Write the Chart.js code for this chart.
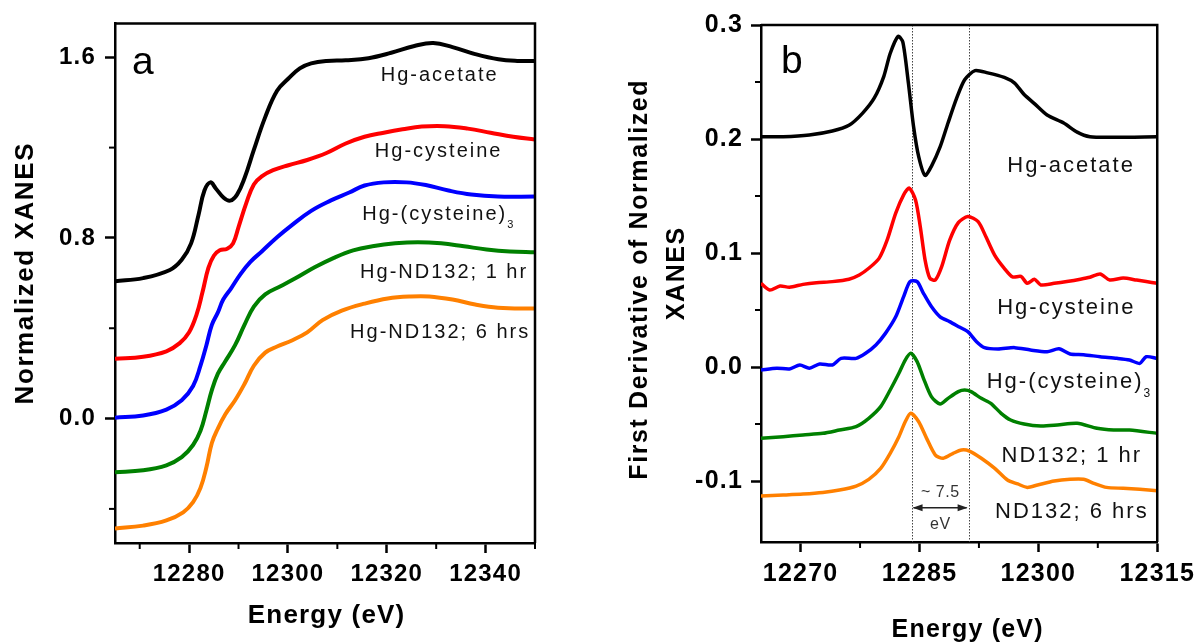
<!DOCTYPE html>
<html>
<head>
<meta charset="utf-8">
<title>Hg L3-edge XANES</title>
<script src="https://cdn.jsdelivr.net/npm/chart.js@4.4.1/dist/chart.umd.min.js"></script>
<style>
  body { margin: 0; background: #fff; width: 1202px; height: 644px; position: relative; overflow: hidden; }
  canvas { position: absolute; top: 0; }
  #chart-a { left: 0; }
  #chart-b { left: 600px; }
</style>
</head>
<body>
<canvas id="chart-a" width="600" height="644"></canvas>
<canvas id="chart-b" width="602" height="644"></canvas>
<script>
// Panel a: normalized XANES, offset stack (energy in eV, normalized absorbance)
const acetateE = [12265, 12270.7, 12276.1, 12278.5, 12280.4, 12281.9, 12283.1, 12284.3, 12285.4, 12287.0, 12288.3, 12289.7, 12291.2, 12293.1, 12295.4, 12297.8, 12300.1, 12302.4, 12304.7, 12307.8, 12311.7, 12316.3, 12320.9, 12325.6, 12329.4, 12333.3, 12337.9, 12342.6, 12346.4, 12350];
const acetateN = [0.608, 0.622, 0.658, 0.703, 0.776, 0.902, 1.010, 1.046, 1.019, 0.978, 0.965, 0.992, 1.064, 1.190, 1.335, 1.452, 1.506, 1.551, 1.573, 1.584, 1.587, 1.596, 1.620, 1.650, 1.663, 1.645, 1.614, 1.591, 1.584, 1.584];

const cysE = [12265, 12270.7, 12275.4, 12278.1, 12280.0, 12281.5, 12282.7, 12283.9, 12285.0, 12286.2, 12287.7, 12288.9, 12290.0, 12291.6, 12293.1, 12294.7, 12297.0, 12300.1, 12303.9, 12307.8, 12311.7, 12315.5, 12319.4, 12323.2, 12327.1, 12331.7, 12336.4, 12341.0, 12345.6, 12350];
const cysN = [0.265, 0.274, 0.298, 0.334, 0.382, 0.460, 0.559, 0.667, 0.721, 0.745, 0.752, 0.776, 0.848, 0.956, 1.037, 1.073, 1.100, 1.122, 1.145, 1.176, 1.218, 1.248, 1.266, 1.281, 1.293, 1.295, 1.284, 1.266, 1.248, 1.236];

const cys3E = [12265, 12270.7, 12275.4, 12278.5, 12280.8, 12282.3, 12283.5, 12284.6, 12285.8, 12286.9, 12288.5, 12290.4, 12292.4, 12294.7, 12297.8, 12300.8, 12304.7, 12308.6, 12312.4, 12315.5, 12319.4, 12324.0, 12327.9, 12332.5, 12337.1, 12342.5, 12350];
const cys3N = [0.004, 0.014, 0.040, 0.081, 0.144, 0.234, 0.325, 0.415, 0.469, 0.527, 0.577, 0.640, 0.694, 0.740, 0.803, 0.857, 0.920, 0.965, 1.001, 1.032, 1.046, 1.046, 1.034, 1.010, 0.992, 0.983, 0.983];

const nd1hE = [12265, 12270.7, 12275.4, 12278.5, 12280.8, 12282.3, 12283.5, 12284.6, 12285.8, 12287.3, 12289.3, 12291.2, 12293.1, 12295.4, 12298.5, 12301.6, 12305.5, 12309.3, 12313.2, 12317.1, 12321.7, 12326.3, 12331.0, 12335.6, 12340.2, 12344.9, 12350];
const nd1hN = [-0.238, -0.229, -0.207, -0.171, -0.117, -0.054, 0.036, 0.126, 0.198, 0.253, 0.325, 0.415, 0.496, 0.550, 0.586, 0.622, 0.671, 0.712, 0.745, 0.763, 0.776, 0.781, 0.776, 0.763, 0.749, 0.740, 0.736];

const nd6hE = [12265, 12270.7, 12275.4, 12278.8, 12280.8, 12282.3, 12283.5, 12284.6, 12285.8, 12287.3, 12289.3, 12291.2, 12293.1, 12295.4, 12297.8, 12300.8, 12303.9, 12307.0, 12310.9, 12315.5, 12320.2, 12324.8, 12328.6, 12333.3, 12337.9, 12342.5, 12350];
const nd6hN = [-0.487, -0.474, -0.451, -0.415, -0.370, -0.307, -0.216, -0.108, -0.045, 0.018, 0.081, 0.153, 0.234, 0.292, 0.319, 0.346, 0.382, 0.436, 0.478, 0.509, 0.532, 0.541, 0.541, 0.527, 0.505, 0.491, 0.487];

// Panel b: first derivative of the normalized spectra
const acetateDE = [12265, 12267.8, 12271.1, 12274.0, 12276.1, 12277.8, 12279.3, 12280.5, 12281.3, 12282.3, 12282.9, 12283.6, 12284.25, 12284.9, 12285.7, 12286.5, 12287.6, 12288.6, 12289.7, 12290.7, 12292.0, 12293.6, 12295.7, 12297.0, 12298.2, 12299.5, 12301.1, 12303.2, 12304.9, 12306.5, 12309.5, 12315];
const acetateD = [0.202, 0.202, 0.2035, 0.207, 0.212, 0.2225, 0.236, 0.255, 0.275, 0.290, 0.285, 0.249, 0.211, 0.1845, 0.168, 0.176, 0.193, 0.214, 0.236, 0.252, 0.260, 0.258, 0.254, 0.249, 0.239, 0.231, 0.221, 0.214, 0.206, 0.202, 0.2015, 0.202];

const cysDE = [12265, 12266.1, 12267.4, 12268.6, 12270.3, 12272.0, 12274.0, 12276.1, 12277.4, 12278.6, 12279.9, 12280.9, 12282.0, 12283.0, 12283.7, 12284.5, 12285.1, 12285.7, 12286.3, 12287.0, 12287.8, 12288.8, 12289.9, 12291.1, 12292.4, 12293.4, 12294.5, 12295.7, 12296.75, 12297.8, 12298.6, 12299.5, 12300.3, 12302.0, 12303.6, 12305.3, 12306.5, 12307.8, 12309.0, 12310.7, 12312.4, 12313.6, 12315];
const cysD = [0.0734, 0.0675, 0.071, 0.070, 0.0725, 0.074, 0.0749, 0.077, 0.0807, 0.0866, 0.0953, 0.111, 0.135, 0.151, 0.157, 0.1465, 0.123, 0.094, 0.078, 0.0763, 0.088, 0.111, 0.1266, 0.132, 0.1275, 0.114, 0.098, 0.0866, 0.079, 0.0795, 0.0734, 0.077, 0.072, 0.0734, 0.075, 0.077, 0.0787, 0.0816, 0.0763, 0.078, 0.0763, 0.075, 0.0734];

const cys3DE = [12265, 12267.0, 12268.6, 12269.9, 12271.1, 12272.4, 12274.0, 12275.1, 12277.0, 12278.2, 12279.5, 12280.7, 12282.0, 12283.0, 12283.8, 12284.7, 12285.5, 12286.5, 12287.6, 12288.8, 12290.1, 12291.1, 12292.2, 12293.2, 12294.9, 12297.0, 12299.0, 12301.1, 12302.6, 12304.0, 12305.7, 12307.8, 12309.9, 12311.5, 12312.8, 12313.6, 12315];
const cys3D = [-0.0026, -0.001, -0.0017, 0.0018, -0.001, 0.0026, 0.0018, 0.0076, 0.0076, 0.012, 0.0193, 0.0295, 0.044, 0.0617, 0.0749, 0.0749, 0.0646, 0.053, 0.044, 0.0398, 0.0348, 0.031, 0.0222, 0.017, 0.0158, 0.017, 0.0149, 0.0134, 0.016, 0.0114, 0.0108, 0.009, 0.0076, 0.0061, 0.0032, 0.009, 0.0076];

const nd1hDE = [12265, 12267.8, 12270.3, 12272.8, 12274.9, 12277.0, 12278.6, 12280.1, 12281.3, 12282.4, 12283.2, 12283.9, 12284.7, 12285.5, 12286.5, 12287.6, 12288.6, 12289.9, 12290.7, 12291.5, 12292.8, 12294.0, 12295.3, 12296.5, 12298.2, 12300.3, 12302.4, 12304.9, 12307.4, 12309.5, 12311.5, 12315];
const nd1hD = [-0.0626, -0.0611, -0.0596, -0.0582, -0.0553, -0.0523, -0.045, -0.0348, -0.0202, -0.0055, 0.0061, 0.012, 0.0047, -0.0099, -0.026, -0.0325, -0.0275, -0.0216, -0.0202, -0.0216, -0.0275, -0.0319, -0.0406, -0.0465, -0.05, -0.0518, -0.0509, -0.0494, -0.0538, -0.0553, -0.0553, -0.0582];

const nd6hDE = [12265, 12267.8, 12270.3, 12272.8, 12274.9, 12277.0, 12278.6, 12280.1, 12281.3, 12282.4, 12283.2, 12283.9, 12284.9, 12285.9, 12287.0, 12288.0, 12289.25, 12290.3, 12291.3, 12292.8, 12294.5, 12296.1, 12297.4, 12298.6, 12299.9, 12302.0, 12304.0, 12305.7, 12307.0, 12308.6, 12310.7, 12312.8, 12315];
const nd6hD = [-0.1132, -0.1123, -0.1114, -0.110, -0.1079, -0.1044, -0.0985, -0.0889, -0.0757, -0.0611, -0.048, -0.0406, -0.048, -0.0626, -0.0772, -0.080, -0.0757, -0.0728, -0.0737, -0.080, -0.0889, -0.0991, -0.1026, -0.1056, -0.1035, -0.100, -0.0985, -0.0985, -0.102, -0.1056, -0.1064, -0.1073, -0.1085];

// axis ticks
const aXTicks = [12280, 12300, 12320, 12340];
const aXMinor = [12270, 12290, 12310, 12330, 12350];
const aYTicks = [0, 0.8, 1.6];
const aYMinor = [-0.4, 0.4, 1.2];
const bXTicks = [12270, 12285, 12300, 12315];
const bXMinor = [12277.5, 12292.5, 12307.5];
const bYTicks = [-0.1, 0, 0.1, 0.2, 0.3];
const bYMinor = [-0.05, 0.05, 0.15, 0.25];

// guide lines for the two derivative maxima (~7.5 eV apart)
const peakE = [12284.0, 12291.2];

const colors = ['#000000', '#ff0000', '#0000ff', '#008000', '#ff8000'];
const namesA = ['Hg-acetate', 'Hg-cysteine', 'Hg-(cysteine)', 'Hg-ND132; 1 hr', 'Hg-ND132; 6 hrs'];
const namesB = ['Hg-acetate', 'Hg-cysteine', 'Hg-(cysteine)', 'ND132; 1 hr', 'ND132; 6 hrs'];
// where each curve name sits (energy, value at text baseline)
const labelAtA = [[12330.5, 1.494], [12330.3, 1.159], [12329.5, 0.881], [12331.4, 0.621], [12330.6, 0.357]];
const labelAtB = [[12304.0, 0.1708], [12303.4, 0.0465], [12303.25, -0.0187], [12304.1, -0.0831], [12304.1, -0.1327]];

const FONT = "'Liberation Sans', Arial, sans-serif";

function points(xs, ys) {
    return xs.map(function (x, i) { return { x: x, y: ys[i] }; });
}

function putText(ctx, txt, x, y, font, spacing, align, color) {
    ctx.save();
    ctx.font = font;
    ctx.letterSpacing = spacing + 'px';
    ctx.textAlign = align;
    ctx.textBaseline = 'alphabetic';
    ctx.fillStyle = color || '#000';
    var shift = align === 'center' ? spacing / 2 : (align === 'right' ? spacing : 0);
    ctx.fillText(txt, x + shift, y);
    var w = ctx.measureText(txt).width;
    ctx.restore();
    return w;
}

// frame, minor ticks, curve names, titles and the panel letter
const decor = {
    id: 'decor',
    beforeLayout: function (chart) { chart.ctx.letterSpacing = '1.2px'; },
    beforeDraw: function (chart) { chart.ctx.letterSpacing = '1.2px'; },
    beforeDatasetsDraw: function (chart, args, o) {
        if (!o.guides) return;
        var ctx = chart.ctx, xs = chart.scales.x, area = chart.chartArea;
        ctx.save();
        ctx.strokeStyle = '#444';
        ctx.lineWidth = 1;
        ctx.setLineDash([1.5, 1.5]);
        o.guides.forEach(function (e) {
            var px = Math.round(xs.getPixelForValue(e)) + 0.5;
            ctx.beginPath();
            ctx.moveTo(px, area.top);
            ctx.lineTo(px, area.bottom);
            ctx.stroke();
        });
        ctx.restore();
    },
    afterDraw: function (chart, args, o) {
        var ctx = chart.ctx, xs = chart.scales.x, ys = chart.scales.y, area = chart.chartArea;
        ctx.save();
        ctx.letterSpacing = '0px';
        ctx.strokeStyle = '#000';
        ctx.lineWidth = 2.5;
        // top and right edges of the box
        ctx.beginPath();
        ctx.moveTo(area.left, area.top);
        ctx.lineTo(area.right, area.top);
        ctx.lineTo(area.right, area.bottom);
        ctx.stroke();
        // minor ticks
        ctx.lineWidth = 2;
        o.xMinor.forEach(function (v) {
            var px = xs.getPixelForValue(v);
            ctx.beginPath();
            ctx.moveTo(px, area.bottom);
            ctx.lineTo(px, area.bottom + 6);
            ctx.stroke();
        });
        o.yMinor.forEach(function (v) {
            var py = ys.getPixelForValue(v);
            ctx.beginPath();
            ctx.moveTo(area.left, py);
            ctx.lineTo(area.left - 6, py);
            ctx.stroke();
        });
        ctx.restore();

        // curve names
        o.names.forEach(function (name, i) {
            var px = xs.getPixelForValue(o.labelAt[i][0]);
            var py = ys.getPixelForValue(o.labelAt[i][1]);
            var w = putText(ctx, name, px, py, o.labelFont, o.labelSpacing, 'center', '#111');
            if (i === 2) {
                putText(ctx, '3', px + w / 2 + 1, py + o.subDrop, o.subFont, 0, 'left', '#111');
            }
        });

        // panel letter
        putText(ctx, o.letter, area.left + o.letterAt[0], area.top + o.letterAt[1], '39px ' + FONT, 0, 'left');

        // axis titles
        putText(ctx, 'Energy (eV)', o.xTitleAt[0], o.xTitleAt[1], 'bold ' + o.titleSize + 'px ' + FONT, 1.2, 'center');
        o.yTitle.forEach(function (line, i) {
            ctx.save();
            ctx.translate(o.yTitleAt[i][0], o.yTitleAt[i][1]);
            ctx.rotate(-Math.PI / 2);
            putText(ctx, line, 0, 0, 'bold ' + o.titleSize + 'px ' + FONT, 1.6, 'center');
            ctx.restore();
        });

        // spacing arrow between the two guide lines
        if (o.guides) {
            var x1 = xs.getPixelForValue(o.guides[0]), x2 = xs.getPixelForValue(o.guides[1]);
            var ay = ys.getPixelForValue(o.arrowY);
            ctx.save();
            ctx.strokeStyle = '#222';
            ctx.fillStyle = '#222';
            ctx.lineWidth = 1.5;
            ctx.beginPath();
            ctx.moveTo(x1 + 2, ay);
            ctx.lineTo(x2 - 2, ay);
            ctx.stroke();
            [[x1 + 1, 1], [x2 - 1, -1]].forEach(function (h) {
                ctx.beginPath();
                ctx.moveTo(h[0], ay);
                ctx.lineTo(h[0] + h[1] * 10, ay - 3.5);
                ctx.lineTo(h[0] + h[1] * 10, ay + 3.5);
                ctx.closePath();
                ctx.fill();
            });
            ctx.restore();
            var cx = (x1 + x2) / 2;
            putText(ctx, '~ 7.5', cx, ay - 11, '16px ' + FONT, 0.5, 'center', '#333');
            putText(ctx, 'eV', cx, ay + 21, '16px ' + FONT, 0.5, 'center', '#333');
        }
    }
};

function makePanel(canvasId, cfg) {
    var datasets = cfg.series.map(function (s, i) {
        return {
            data: points(s[0], s[1]),
            borderColor: colors[i],
            borderWidth: cfg.lineWidth,
            pointRadius: 0,
            tension: cfg.tension,
            fill: false
        };
    });
    var tickFont = { family: FONT, size: cfg.tickSize, weight: 'bold' };
    return new Chart(document.getElementById(canvasId), {
        type: 'line',
        data: { datasets: datasets },
        plugins: [decor],
        options: {
            responsive: false,
            animation: false,
            devicePixelRatio: 1,
            layout: { autoPadding: false, padding: cfg.padding },
            plugins: {
                legend: { display: false },
                tooltip: { enabled: false },
                decor: cfg.decor
            },
            scales: {
                x: {
                    type: 'linear',
                    min: cfg.xRange[0],
                    max: cfg.xRange[1],
                    afterBuildTicks: function (s) { s.ticks = cfg.xTicks.map(function (v) { return { value: v }; }); },
                    afterFit: function (s) { s.height = cfg.xAxisHeight; },
                    grid: { drawOnChartArea: false, drawTicks: true, tickLength: 10, tickWidth: 2.5, tickColor: '#000' },
                    border: { display: true, color: '#000', width: 2.5 },
                    ticks: {
                        color: '#000', font: tickFont, padding: 7, maxRotation: 0, autoSkip: false,
                        callback: function (v) { return String(v); }
                    }
                },
                y: {
                    type: 'linear',
                    min: cfg.yRange[0],
                    max: cfg.yRange[1],
                    afterBuildTicks: function (s) { s.ticks = cfg.yTicks.map(function (v) { return { value: v }; }); },
                    afterFit: function (s) { s.width = cfg.yAxisWidth; },
                    grid: { drawOnChartArea: false, drawTicks: true, tickLength: 10, tickWidth: 2.5, tickColor: '#000' },
                    border: { display: true, color: '#000', width: 2.5 },
                    ticks: {
                        color: '#000', font: tickFont, padding: cfg.yTickPad,
                        callback: function (v) { return v.toFixed(1); }
                    }
                }
            }
        }
    });
}

makePanel('chart-a', {
    series: [[acetateE, acetateN], [cysE, cysN], [cys3E, cys3N], [nd1hE, nd1hN], [nd6hE, nd6hN]],
    lineWidth: 4,
    tension: 0.4,
    xRange: [12265, 12350],
    yRange: [-0.551, 1.75],
    xTicks: aXTicks,
    yTicks: aYTicks,
    tickSize: 24,
    yTickPad: 9,
    padding: { left: 0, top: 21, right: 65, bottom: 0 },
    yAxisWidth: 115,
    xAxisHeight: 101,
    decor: {
        xMinor: aXMinor, yMinor: aYMinor,
        names: namesA, labelAt: labelAtA,
        labelFont: '20px ' + FONT, labelSpacing: 2, subFont: '11px ' + FONT, subDrop: 8.5,
        letter: 'a', letterAt: [17, 51],
        titleSize: 26,
        xTitleAt: [326, 623],
        yTitle: ['Normalized XANES'],
        yTitleAt: [[33, 274]]
    }
});

makePanel('chart-b', {
    series: [[acetateDE, acetateD], [cysDE, cysD], [cys3DE, cys3D], [nd1hDE, nd1hD], [nd6hDE, nd6hD]],
    lineWidth: 3.5,
    tension: 0.25,
    xRange: [12265, 12315],
    yRange: [-0.1535, 0.3],
    xTicks: bXTicks,
    yTicks: bYTicks,
    tickSize: 25,
    yTickPad: 8,
    padding: { left: 0, top: 25, right: 42, bottom: 0 },
    yAxisWidth: 161,
    xAxisHeight: 102,
    decor: {
        xMinor: bXMinor, yMinor: bYMinor,
        names: namesB, labelAt: labelAtB,
        labelFont: '22px ' + FONT, labelSpacing: 2, subFont: '12px ' + FONT, subDrop: 8.5,
        letter: 'b', letterAt: [20, 48],
        titleSize: 25,
        xTitleAt: [367, 637],
        yTitle: ['First Derivative of Normalized', 'XANES'],
        yTitleAt: [[47, 280], [84, 274]],
        guides: peakE,
        arrowY: -0.1234
    }
});
</script>
</body>
</html>
